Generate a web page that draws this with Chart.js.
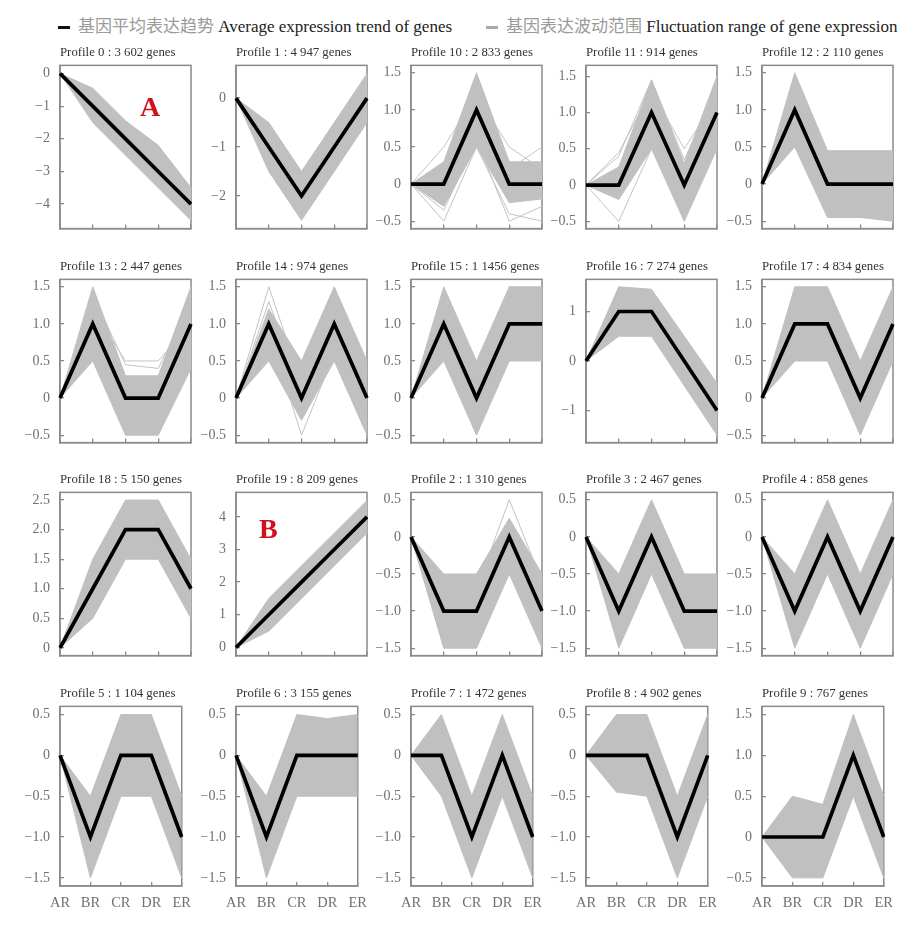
<!DOCTYPE html>
<html><head><meta charset="utf-8">
<script src="https://cdn.jsdelivr.net/npm/chart.js@4.4.1/dist/chart.umd.min.js"></script>
<style>
body{margin:0;background:#fff;width:920px;height:930px;position:relative;overflow:hidden;}
.panel{position:absolute;}
.legend{position:absolute;top:13px;height:24px;white-space:nowrap;font-size:17px;line-height:24px;}
.dash{display:inline-block;width:12px;height:3px;vertical-align:middle;margin-right:8px;position:relative;top:-1px}
.cn{font-family:"Noto Sans CJK SC";color:#9a9a9a}
.en{font-family:"Liberation Serif";color:#222}
.mark{position:absolute;font-family:"Liberation Serif";font-weight:bold;color:#d0101c;font-size:28px;line-height:28px}
</style></head><body>
<div class="legend" style="left:58px"><span class="dash" style="background:#111"></span><span class="cn">基因平均表达趋势</span><span class="en"> Average expression trend of genes</span></div>
<div class="legend" style="left:486px"><span class="dash" style="background:#aaa"></span><span class="cn">基因表达波动范围</span><span class="en"> Fluctuation range of gene expression</span></div>
<script>
// ---------- data ----------
const categories = ['AR','BR','CR','DR','ER'];
const profileIds = [0,1,10,11,12, 13,14,15,16,17, 18,19,2,3,4, 5,6,7,8,9];
const geneCounts = ['3 602','4 947','2 833','914','2 110',
                    '2 447','974','1 1456','7 274','4 834',
                    '5 150','8 209','1 310','2 467','858',
                    '1 104','3 155','1 472','4 902','767'];
const meanTrend = [
  [0,-1,-2,-3,-4],[0,-1,-2,-1,0],[0,0,1,0,0],[0,0,1,0,1],[0,1,0,0,0],
  [0,1,0,0,1],[0,1,0,1,0],[0,1,0,1,1],[0,1,1,0,-1],[0,1,1,0,1],
  [0,1,2,2,1],[0,1,2,3,4],[0,-1,-1,0,-1],[0,-1,0,-1,-1],[0,-1,0,-1,0],
  [0,-1,0,0,-1],[0,-1,0,0,0],[0,0,-1,0,-1],[0,0,0,-1,0],[0,0,0,1,0]
];
const upperRange = [
  [0,-0.45,-1.45,-2.2,-3.5],[0,-0.5,-1.5,-0.5,0.5],[0,0.3,1.5,0.3,0.3],[0,0.25,1.45,0.3,1.5],[0,1.5,0.45,0.45,0.45],
  [0,1.5,0.3,0.3,1.5],[0,1.2,0.5,1.5,0.5],[0,1.5,0.5,1.5,1.5],[0,1.5,1.45,0.5,-0.45],[0,1.5,1.5,0.5,1.5],
  [0,1.5,2.5,2.5,1.5],[0,1.5,2.5,3.5,4.5],[0,-0.5,-0.5,0.25,-0.5],[0,-0.5,0.5,-0.5,-0.5],[0,-0.5,0.5,-0.5,0.5],
  [0,-0.5,0.5,0.5,-0.5],[0,-0.5,0.5,0.45,0.5],[0,0.5,-0.5,0.5,-0.5],[0,0.5,0.5,-0.5,0.5],[0,0.5,0.4,1.5,0.5]
];
const lowerRange = [
  [0,-1.5,-2.5,-3.5,-4.5],[0,-1.5,-2.5,-1.5,-0.5],[0,-0.3,0.5,-0.25,-0.2],[0,-0.2,0.5,-0.5,0.5],[0,0.5,-0.45,-0.45,-0.5],
  [0,0.5,-0.5,-0.5,0.4],[0,0.5,-0.3,0.5,-0.5],[0,0.5,-0.5,0.5,0.5],[0,0.5,0.5,-0.5,-1.5],[0,0.5,0.5,-0.5,0.5],
  [0,0.5,1.5,1.5,0.5],[0,0.5,1.5,2.5,3.5],[0,-1.5,-1.5,-0.5,-1.5],[0,-1.5,-0.5,-1.5,-1.5],[0,-1.5,-0.5,-1.5,-0.5],
  [0,-1.5,-0.5,-0.5,-1.5],[0,-1.5,-0.5,-0.5,-0.5],[0,-0.5,-1.5,-0.5,-1.5],[0,-0.45,-0.5,-1.5,-0.5],[0,-0.5,-0.5,0.5,-0.5]
];
const outlierLines = [
  [],[],
  [[0,-0.5,0.5,-0.4,-0.5],[0,-0.35,0.6,-0.5,-0.3],[0,0.1,0.9,0.2,0.5],[0,0.5,1.2,0.5,0.2]],
  [[0,0.45,1.3,0.5,1.2],[0,0.4,1.45,0.35,1.35],[0,-0.5,0.5,0.0,0.6]],
  [],
  [[0,1.2,0.5,0.5,1.0],[0,1.4,0.45,0.4,1.3]],
  [[0,1.5,0.2,1.2,0.3],[0,1.3,0.1,1.0,0.2],[0,0.9,-0.5,0.6,-0.4]],
  [],[],[],
  [],[],
  [[0,-0.8,-0.7,0.5,-0.6]],
  [],[],[],[],[],[],[]
];
const yMin = [-4.75,-2.67,-0.6,-0.6,-0.6, -0.6,-0.6,-0.6,-1.65,-0.6, -0.13,-0.25,-1.6,-1.6,-1.6, -1.6,-1.6,-1.6,-1.6,-0.6];
const yMax = [0.25,0.67,1.6,1.65,1.6, 1.6,1.6,1.6,1.65,1.6, 2.63,4.75,0.6,0.6,0.6, 0.6,0.6,0.6,0.6,1.6];
const tickSetA = [-0.5,0,0.5,1,1.5];
const tickSetB = [-1.5,-1,-0.5,0,0.5];
const yTickValues = [
  [-4,-3,-2,-1,0],[-2,-1,0],tickSetA,tickSetA,tickSetA,
  tickSetA,tickSetA,tickSetA,[-1,0,1],tickSetA,
  [0,0.5,1,1.5,2,2.5],[0,1,2,3,4],tickSetB,tickSetB,tickSetB,
  tickSetB,tickSetB,tickSetB,tickSetB,tickSetA
];
const yDecimals = [0,0,1,1,1, 1,1,1,0,1, 1,0,1,1,1, 1,1,1,1,1];

// ---------- layout ----------
const colLeft = [60,236,411,586,762];
const rowTop = [65,279,492,706];
const PW = 131, PH = 180, YW = 56, TH = 25, RP = 12;
const AXIS = '#8a8a8a', BAND = '#c0c0c0';

const frame = {
  id:'frame',
  beforeDatasetsDraw(chart){
    const {ctx, chartArea:a} = chart;
    ctx.save(); ctx.strokeStyle = AXIS; ctx.lineWidth = 1.5;
    ctx.strokeRect(a.left, a.top, a.right-a.left, a.bottom-a.top);
    ctx.restore();
  }
};

function fmt(v, d){
  if (Math.abs(v) < 1e-9) return '0';
  const s = Math.abs(v).toFixed(d);
  return (v < 0 ? '\u2212' : '') + s;
}

profileIds.forEach((pid, i) => {
  const r = Math.floor(i/5), c = i%5;
  const bottom = r === 3;
  const XH = bottom ? 32 : 6;
  const div = document.createElement('div');
  div.className = 'panel';
  div.style.left = (colLeft[c]-YW)+'px';
  div.style.top = (rowTop[r]-TH)+'px';
  const cv = document.createElement('canvas');
  const W = YW + PW + RP, H = TH + PH + XH;
  cv.width = W; cv.height = H; cv.style.width = W+'px'; cv.style.height = H+'px';
  div.appendChild(cv); document.body.appendChild(div);

  const ds = [{data: meanTrend[i], borderColor:'#000', borderWidth:3.7, pointRadius:0, fill:false, tension:0}];
  outlierLines[i].forEach(l => ds.push({data:l, borderColor:'#c3c3c3', borderWidth:1, pointRadius:0, fill:false}));
  ds.push({data: upperRange[i], borderColor:BAND, borderWidth:1, backgroundColor:BAND, fill:'+1', pointRadius:0});
  ds.push({data: lowerRange[i], borderColor:BAND, borderWidth:1, pointRadius:0, fill:false});

  const vals = yTickValues[i], dec = yDecimals[i];
  new Chart(cv, {
    type:'line',
    data:{labels: categories, datasets: ds},
    options:{
      responsive:false, animation:false, events:[],
      layout:{padding:{left:0,right:RP,top:0,bottom:0}},
      plugins:{
        legend:{display:false}, tooltip:{enabled:false},
        title:{display:true, text:'Profile '+pid+' : '+geneCounts[i]+' genes', align:'start', fullSize:false,
               color:'#333', font:{family:'Liberation Serif', size:12.8, weight:'normal', lineHeight:1.2},
               padding:{top:5,bottom:5}}
      },
      scales:{
        x:{type:'category', offset:false,
           grid:{drawOnChartArea:false, drawTicks:true, tickLength:-4, color:AXIS, lineWidth:1.3},
           border:{color:AXIS, width:1.5},
           ticks:{display:bottom, autoSkip:false, maxRotation:0, padding:12, color:'#707070',
                  font:{family:'Liberation Serif', size:14.5}},
           afterFit: s => { s.height = XH; }},
        y:{type:'linear', min:yMin[i], max:yMax[i],
           grid:{drawOnChartArea:false, drawTicks:true, tickLength:-4, color:AXIS, lineWidth:1.3},
           border:{color:AXIS, width:1.5},
           ticks:{padding:14, color:'#707070', font:{family:'Liberation Serif', size:14},
                  callback: v => fmt(v, dec)},
           afterBuildTicks: s => { s.ticks = vals.map(v => ({value:v})); },
           afterFit: s => { s.width = YW; }}
      }
    },
    plugins:[frame]
  });
});
</script>
<div class="mark" style="left:140px;top:93px">A</div>
<div class="mark" style="left:259px;top:515px">B</div>
</body></html>
